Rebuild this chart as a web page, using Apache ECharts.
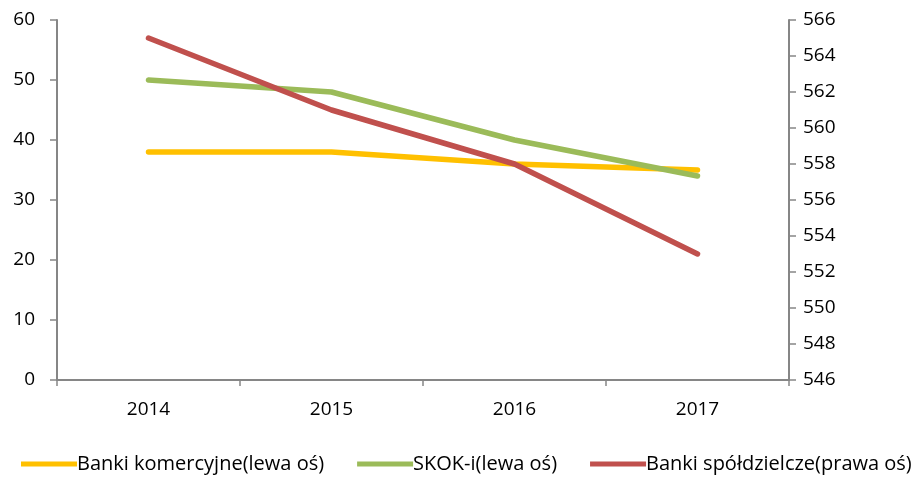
<!DOCTYPE html>
<html>
<head>
<meta charset="utf-8">
<script src="https://cdn.jsdelivr.net/npm/echarts@6/dist/echarts.min.js"></script>
<style>
  html, body { margin: 0; padding: 0; background: #fff; }
  #chart { width: 922px; height: 482px; }
</style>
</head>
<body>
<div id="chart"></div>
<script>
// lata
var years = ['2014', '2015', '2016', '2017'];
// lewa oś
var bankiKomercyjne = [38, 38, 36, 35];
var skoki = [50, 48, 40, 34];
// prawa oś
var bankiSpoldzielcze = [565, 561, 558, 553];

var leftTicks = { min: 0, max: 60, interval: 10 };
var rightTicks = { min: 546, max: 566, interval: 2 };

var fontName = 'Open Sans';
var axisGray = '#868686';

var chart = echarts.init(document.getElementById('chart'));

var option = {
    animation: false,
    textStyle: { fontFamily: fontName },
    grid: { left: 57, right: 133, top: 20, bottom: 102 },
    legend: {
        bottom: 3,
        left: 16,
        width: 905,
        icon: 'rect',
        itemWidth: 56,
        itemHeight: 5,
        itemGap: 33,
        textStyle: { fontSize: 20, color: '#000', padding: [0, 0, 0, -5] },
        data: ['Banki komercyjne(lewa oś)', 'SKOK-i(lewa oś)', 'Banki spółdzielcze(prawa oś)']
    },
    xAxis: {
        type: 'category',
        data: years,
        boundaryGap: true,
        axisLine: { lineStyle: { color: axisGray, width: 2 } },
        axisTick: { show: true, length: 6, lineStyle: { color: axisGray, width: 1.5 } },
        axisLabel: { color: '#000', fontSize: 19, margin: 20 }
    },
    yAxis: [
        {
            type: 'value',
            position: 'left',
            min: leftTicks.min, max: leftTicks.max, interval: leftTicks.interval,
            splitLine: { show: false },
            axisLine: { show: true, lineStyle: { color: axisGray, width: 2 } },
            axisTick: { show: true, length: 7, lineStyle: { color: axisGray, width: 1.5 } },
            axisLabel: { color: '#000', fontSize: 19, margin: 22 }
        },
        {
            type: 'value',
            position: 'right',
            min: rightTicks.min, max: rightTicks.max, interval: rightTicks.interval,
            splitLine: { show: false },
            axisLine: { show: true, lineStyle: { color: axisGray, width: 2 } },
            axisTick: { show: true, length: 7, lineStyle: { color: axisGray, width: 1.5 } },
            axisLabel: { color: '#000', fontSize: 19, margin: 14 }
        }
    ],
    series: [
        {
            name: 'Banki komercyjne(lewa oś)',
            type: 'line',
            yAxisIndex: 0,
            data: bankiKomercyjne,
            symbol: 'none',
            color: '#FFC000',
            lineStyle: { width: 5.5, color: '#FFC000', cap: 'round' }
        },
        {
            name: 'SKOK-i(lewa oś)',
            type: 'line',
            yAxisIndex: 0,
            data: skoki,
            symbol: 'none',
            color: '#9BBB59',
            lineStyle: { width: 5.5, color: '#9BBB59', cap: 'round' }
        },
        {
            name: 'Banki spółdzielcze(prawa oś)',
            type: 'line',
            yAxisIndex: 1,
            data: bankiSpoldzielcze,
            symbol: 'none',
            color: '#C0504D',
            lineStyle: { width: 5.5, color: '#C0504D', cap: 'round' }
        }
    ]
};

chart.setOption(option);
</script>
</body>
</html>
